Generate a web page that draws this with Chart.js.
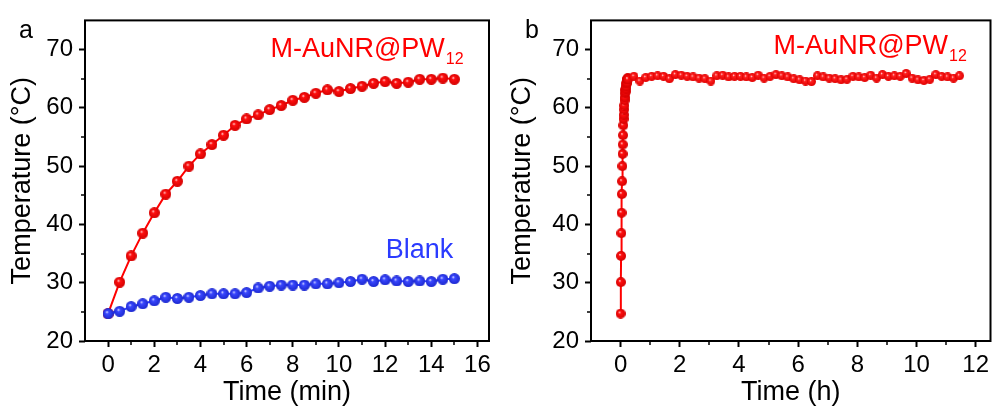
<!DOCTYPE html>
<html>
<head>
<meta charset="utf-8">
<script src="https://cdn.jsdelivr.net/npm/chart.js@4.4.0/dist/chart.umd.min.js"></script>
<style>
  html, body { margin: 0; padding: 0; background: #fff; }
  #wrap { position: relative; width: 997px; height: 409px; }
  #wrap canvas { position: absolute; top: 0; }
  #chartA { left: 0; }
  #chartB { left: 500px; }
</style>
</head>
<body>
<div id="wrap">
  <canvas id="chartA" width="497" height="409"></canvas>
  <canvas id="chartB" width="497" height="409"></canvas>
</div>
<script>
// heating curves, sampled every 0.5 min
const timeMin = [0, 0.5, 1, 1.5, 2, 2.5, 3, 3.5, 4, 4.5, 5, 5.5, 6, 6.5, 7, 7.5,
  8, 8.5, 9, 9.5, 10, 10.5, 11, 11.5, 12, 12.5, 13, 13.5, 14, 14.5, 15];
const tempSample = [24.7, 30.1, 34.6, 38.5, 42.0, 45.2, 47.4, 50.0, 52.1, 53.7, 55.3,
  57.0, 58.1, 58.8, 59.7, 60.4, 61.3, 61.8, 62.5, 63.1, 62.8, 63.3, 63.7, 64.2, 64.5,
  64.2, 64.4, 64.9, 64.9, 65.1, 64.9];
const tempBlank = [24.7, 25.1, 25.9, 26.4, 26.9, 27.5, 27.3, 27.5, 27.8, 28.1, 28.1,
  28.1, 28.3, 29.1, 29.4, 29.6, 29.6, 29.6, 29.8, 29.8, 30.0, 30.2, 30.6, 30.2, 30.5,
  30.3, 30.2, 30.3, 30.2, 30.6, 30.7];

// long run under irradiation, after the first 15 min (hours)
const timeHold = [0.45, 0.65, 0.85, 1.05, 1.25, 1.45, 1.65, 1.85, 2.05, 2.25, 2.45,
  2.65, 2.85, 3.05, 3.25, 3.45, 3.65, 3.85, 4.05, 4.25, 4.45, 4.65, 4.85, 5.05, 5.25,
  5.45, 5.65, 5.85, 6.05, 6.25, 6.45, 6.65, 6.85, 7.05, 7.25, 7.45, 7.65, 7.85, 8.05,
  8.25, 8.45, 8.65, 8.85, 9.05, 9.25, 9.45, 9.65, 9.85, 10.05, 10.25, 10.45, 10.65,
  10.85, 11.05, 11.25, 11.45];
const tempHold = [65.4, 64.6, 65.2, 65.4, 65.5, 65.4, 65.0, 65.7, 65.6, 65.4, 65.3,
  65.1, 65.0, 64.6, 65.5, 65.6, 65.3, 65.4, 65.4, 65.3, 65.2, 65.6, 65.1, 65.4, 65.7,
  65.5, 65.3, 65.0, 64.8, 64.6, 64.5, 65.5, 65.3, 65.1, 65.0, 64.8, 64.9, 65.4, 65.3,
  65.2, 65.6, 65.1, 65.7, 65.4, 65.5, 65.4, 65.9, 65.1, 64.8, 64.7, 64.9, 65.7, 65.4,
  65.3, 65.1, 65.5];

const yTicks = [20, 30, 40, 50, 60, 70];
const yMinor = [25, 35, 45, 55, 65];
const xTicksA = [0, 2, 4, 6, 8, 10, 12, 14, 16];
const xMinorA = [1, 3, 5, 7, 9, 11, 13, 15];
const xTicksB = [0, 2, 4, 6, 8, 10, 12];
const xMinorB = [1, 3, 5, 7, 9, 11];

const RED = '#ff0000';
const BLUE = '#2b3bff';
const FONT = '"Liberation Sans", Arial, sans-serif';

// shaded sphere used as a marker
function ball(body, dark, d) {
  const c = document.createElement('canvas');
  c.width = c.height = d;
  const g = c.getContext('2d');
  const r = d / 2;
  const grad = g.createRadialGradient(r * 0.75, r * 0.7, 0, r, r, r);
  grad.addColorStop(0, '#ffffff');
  grad.addColorStop(0.28, body);
  grad.addColorStop(1, dark);
  g.fillStyle = grad;
  g.beginPath();
  g.arc(r, r, r, 0, Math.PI * 2);
  g.fill();
  return c;
}

const redBall = ball('#ff1010', '#d40000', 11);
const blueBall = ball('#3a48ff', '#1c28d0', 11);
const redBallMid = ball('#ff1010', '#d40000', 10);
const redBallSmall = ball('#ff2020', '#e00000', 9);

// box frame, minor ticks, panel letter and in-plot labels
const decorPlugin = {
  id: 'decor',
  afterDraw(chart, args, opts) {
    const {ctx, chartArea: a, scales: {x, y}} = chart;
    ctx.save();
    ctx.strokeStyle = '#000';
    ctx.lineWidth = 2;
    ctx.strokeRect(a.left, a.top, a.right - a.left, a.bottom - a.top);
    ctx.lineWidth = 1.5;
    opts.xMinor.forEach(v => {
      const px = Math.round(x.getPixelForValue(v));
      ctx.beginPath();
      ctx.moveTo(px, a.bottom);
      ctx.lineTo(px, a.bottom + 4);
      ctx.stroke();
    });
    opts.yMinor.forEach(v => {
      const py = Math.round(y.getPixelForValue(v));
      ctx.beginPath();
      ctx.moveTo(a.left, py);
      ctx.lineTo(a.left - 4, py);
      ctx.stroke();
    });

    ctx.fillStyle = '#000';
    ctx.font = '25px ' + FONT;
    ctx.textAlign = 'center';
    ctx.textBaseline = 'alphabetic';
    ctx.fillText(opts.letter, a.left - 59, a.top + 18);

    opts.labels.forEach(l => {
      const px = x.getPixelForValue(l.x);
      const py = y.getPixelForValue(l.y);
      ctx.fillStyle = l.color;
      ctx.textAlign = 'right';
      let sw = 0;
      if (l.sub) {
        ctx.font = '16px ' + FONT;
        ctx.fillText(l.sub, px, py + 7);
        sw = ctx.measureText(l.sub).width + 1;
      }
      ctx.font = '27px ' + FONT;
      ctx.fillText(l.text, px - sw, py);
    });
    ctx.restore();
  }
};

function axisX(min, max, ticks, title, height) {
  return {
    type: 'linear', min, max,
    afterBuildTicks: s => { s.ticks = ticks.map(v => ({value: v})); },
    afterFit: s => { s.height = height; },
    border: {display: false},
    grid: {drawOnChartArea: false, drawTicks: true, tickLength: 6, tickWidth: 2, tickColor: '#000', color: '#000'},
    ticks: {color: '#000', font: {family: FONT, size: 24}, padding: 4, maxRotation: 0},
    title: {display: true, text: title, color: '#000', font: {family: FONT, size: 27}, padding: {top: 0, bottom: 0}}
  };
}

function axisY(width) {
  return {
    type: 'linear', min: 20, max: 75,
    afterBuildTicks: s => { s.ticks = yTicks.map(v => ({value: v})); },
    afterFit: s => { s.width = width; },
    border: {display: false},
    grid: {drawOnChartArea: false, drawTicks: true, tickLength: 6, tickWidth: 2, tickColor: '#000', color: '#000'},
    ticks: {color: '#000', font: {family: FONT, size: 24}, padding: 6},
    title: {display: true, text: 'Temperature (°C)', color: '#000', font: {family: FONT, size: 27}, padding: {top: 6, bottom: 0}}
  };
}

const pairs = (xs, ys) => xs.map((t, i) => ({x: t, y: ys[i]}));

new Chart(document.getElementById('chartA'), {
  type: 'line',
  data: {
    datasets: [
      {
        label: 'Blank',
        data: pairs(timeMin, tempBlank),
        borderColor: BLUE, borderWidth: 2, tension: 0,
        pointStyle: blueBall, pointRadius: 5.5, order: 0
      },
      {
        label: 'M-AuNR@PW12',
        data: pairs(timeMin, tempSample),
        borderColor: RED, borderWidth: 2, tension: 0,
        pointStyle: redBall, pointRadius: 5.5, order: 1
      }
    ]
  },
  options: {
    responsive: false,
    animation: false,
    devicePixelRatio: 1,
    layout: {padding: {top: 16, right: 8, left: 0, bottom: 0}},
    plugins: {
      legend: {display: false},
      tooltip: {enabled: false},
      decor: {
        letter: 'a', xMinor: xMinorA, yMinor: yMinor,
        labels: [
          {text: 'M-AuNR@PW', sub: '12', x: 15.4, y: 68.8, color: RED},
          {text: 'Blank', x: 14.95, y: 34.2, color: BLUE}
        ]
      }
    },
    scales: {
      x: axisX(-1, 16.5, xTicksA, 'Time (min)', 68),
      y: axisY(85)
    }
  },
  plugins: [decorPlugin]
});

// first 15 min converted to hours, then the long hold
const timeB = timeMin.map(t => t / 60).concat(timeHold);
const tempB = tempSample.concat(tempHold);

new Chart(document.getElementById('chartB'), {
  type: 'line',
  data: {
    datasets: [
      {
        label: 'M-AuNR@PW12',
        data: pairs(timeB, tempB),
        borderColor: RED, borderWidth: 2, tension: 0,
        pointStyle: ctx => ctx.dataIndex < timeMin.length ? redBallMid : redBallSmall,
        pointRadius: 4.5
      }
    ]
  },
  options: {
    responsive: false,
    animation: false,
    devicePixelRatio: 1,
    layout: {padding: {top: 16, right: 4, left: 0, bottom: 0}},
    plugins: {
      legend: {display: false},
      tooltip: {enabled: false},
      decor: {
        letter: 'b', xMinor: xMinorB, yMinor: yMinor,
        labels: [
          {text: 'M-AuNR@PW', sub: '12', x: 11.7, y: 69.2, color: RED}
        ]
      }
    },
    scales: {
      x: axisX(-1, 12.5, xTicksB, 'Time (h)', 68),
      y: axisY(91)
    }
  },
  plugins: [decorPlugin]
});
</script>
</body>
</html>
